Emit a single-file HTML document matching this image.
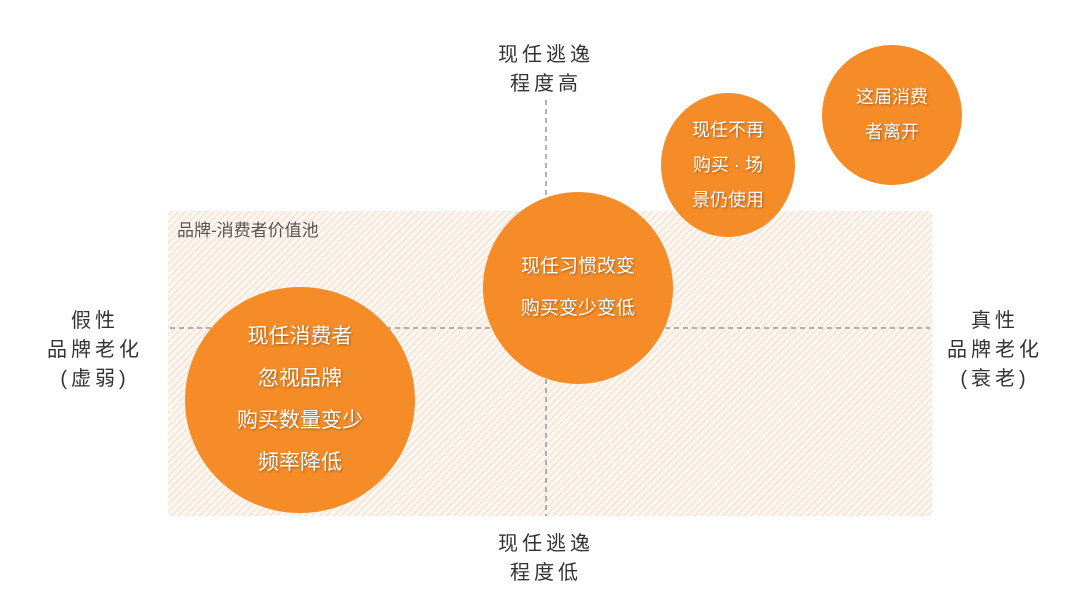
<!DOCTYPE html>
<html><head><meta charset="utf-8"><style>
body{margin:0;width:1080px;height:606px;background:#fff;position:relative;overflow:hidden;font-family:"Liberation Sans","Noto Sans CJK SC",sans-serif;}
.lab{position:absolute;color:#333;font-size:20px;line-height:29px;letter-spacing:4px;text-align:center;}
.c{position:absolute;border-radius:50%;background:#F58C28;color:#fff;display:flex;align-items:center;justify-content:center;text-align:center;text-shadow:1px 1px 2px rgba(0,0,0,.35);}
</style></head><body>
<svg width="1080" height="606" style="position:absolute;left:0;top:0">
<defs><pattern id="h" width="5" height="5" patternUnits="userSpaceOnUse" patternTransform="rotate(45)">
<rect width="5" height="5" fill="#fdf7f2"/><rect width="1.5" height="5" fill="#f7e2d4"/></pattern></defs>
<rect x="168" y="211" width="764" height="305" fill="url(#h)"/>
<line x1="546" y1="100" x2="546" y2="516" stroke="#888" stroke-width="1.3" stroke-dasharray="5,4"/>
<line x1="170" y1="328" x2="930" y2="328" stroke="#888" stroke-width="1.3" stroke-dasharray="5,4"/>
</svg>
<div style="position:absolute;left:177px;top:216px;font-size:17px;color:#555;">品牌-消费者价值池</div>
<div class="lab" style="left:486px;top:41px;width:120px;">现任逃逸<br>程度高</div>
<div class="lab" style="left:486px;top:530px;width:120px;">现任逃逸<br>程度低</div>
<div class="lab" style="left:40px;top:307px;width:110px;">假性<br>品牌老化<br>(虚弱)</div>
<div class="lab" style="left:940px;top:307px;width:110px;">真性<br>品牌老化<br>(衰老)</div>
<div class="c" style="left:185px;top:287px;width:230px;height:226px;font-size:21px;line-height:42px;">现任消费者<br>忽视品牌<br>购买数量变少<br>频率降低</div>
<div class="c" style="left:483px;top:192px;width:190px;height:192px;font-size:19px;line-height:42px;">现任习惯改变<br>购买变少变低</div>
<div class="c" style="left:661px;top:93px;width:134px;height:144px;font-size:18px;line-height:35px;">现任不再<br>购买 · 场<br>景仍使用</div>
<div class="c" style="left:822px;top:45px;width:140px;height:140px;font-size:18px;line-height:35px;">这届消费<br>者离开</div>
</body></html>
